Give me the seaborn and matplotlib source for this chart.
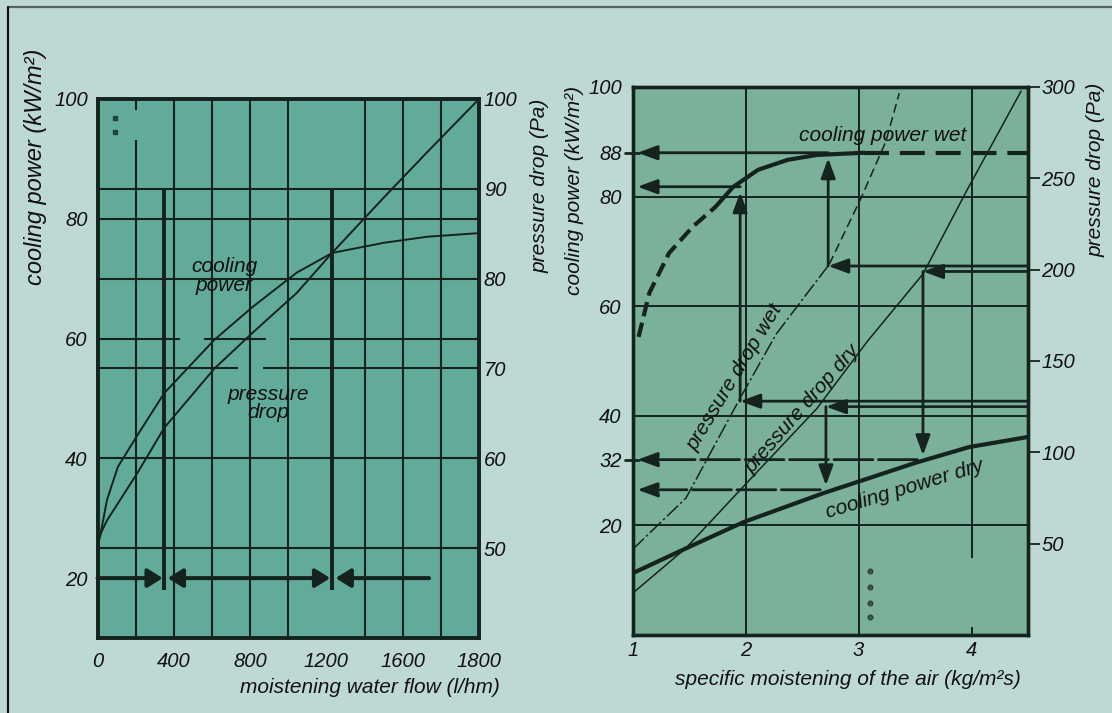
import numpy as np
import pandas as pd
import matplotlib
matplotlib.use('Agg')
import matplotlib.pyplot as plt
import seaborn as sns
from matplotlib.lines import Line2D

# ---- left chart: cooling power / pressure drop vs moistening water flow ----
flow_cp = [0, 13, 50, 107, 210, 350, 613, 814, 1044, 1231, 1504, 1729, 2000]
cooling_power = [25.5, 26.9, 33.1, 38.6, 43.9, 50.9, 59.8, 65.3, 71.0, 74.3, 76.0, 77.0, 77.6]
flow_pd = [0, 50, 210, 350, 613, 814, 1044, 1231, 1504, 1729, 2000]
pressure_drop = [50.9, 53.1, 58.4, 63.4, 70.0, 74.0, 78.4, 82.9, 89.1, 94.1, 100.0]
flow_ticks = [0, 400, 800, 1200, 1600, 2000]
flow_ticklabels = ['0', '400', '800', '1200', '1600', '1800']
flow_grid = [400, 600, 800, 1000, 1400, 1600, 1800]
cp_grid_left = [40, 80]
pd_grid_left = [50, 80, 90]
# grid lines drawn with breaks in the original scan
cp60_x0 = [0, 557, 1007]
cp60_x1 = [433, 885, 2000]
pd70_x0 = [0, 866]
pd70_x1 = [735, 2000]
flow200_y0 = [10, 98.2]
flow200_y1 = [93.2, 100]
flow_bounds = [350, 1230]        # thick range limits
range_level = 20                 # arrow row (kW/m2)
scan_dots_left_x = [92, 92]
scan_dots_left_y = [96.8, 94.5]

# ---- right chart: vs specific moistening of the air ----
air_cpw = [1.05, 1.145, 1.32, 1.53, 1.73, 1.89, 2.11, 2.37, 2.63, 3.05]
cp_wet = [54.4, 62.4, 69.7, 74.5, 78.1, 81.8, 84.9, 86.7, 87.6, 88.0]
plateau_x = [3.05, 4.5]
plateau_cp = [88, 88]
air_cpd = [1.0, 1.5, 1.98, 2.69, 3.0, 3.5, 3.98, 4.49]
cp_dry = [11.3, 16.1, 20.6, 25.9, 28.0, 31.4, 34.3, 36.1]
air_pdw = [1.0, 1.47, 1.95, 2.27, 2.74, 3.02, 3.24, 3.36]
pd_wet = [47, 75, 129.7, 164.8, 203, 239, 270, 296.6]
air_pdd = [1.0, 1.47, 2.05, 2.63, 3.08, 3.57, 3.97, 4.44]
pd_dry = [23, 47.6, 86, 124, 161, 197.6, 244.7, 297.8]
cp_ticks = [20, 32, 40, 60, 80, 88, 100]
pa_ticks = [50, 100, 150, 200, 250, 300]
air_grid = [2, 3]
cp_grid_right = [20, 40, 60, 80]
# reading examples: start pressure (Pa) -> curve at x -> cooling power (kW/m2)
read_x = [1.95, 2.73, 3.57, 2.71]
read_pa = [128, 202, 199, 125]
read_cp = [81.8, 88, 32, 26.5]
read_down = [False, False, True, True]
scan_dots_right_x = [3.1, 3.1, 3.1, 3.1]
scan_dots_right_y = [11.6, 8.7, 5.8, 3.3]

sns.set_theme(style='white')
plt.rcParams['font.family'] = ['Liberation Sans', 'DejaVu Sans']
plt.rcParams['font.style'] = 'italic'
plt.rcParams['font.size'] = 14.5

bg = '#bed9d3'
ink = '#15231f'

fig = plt.figure(figsize=(11.12, 7.13), dpi=100, facecolor=bg)

# frame
fig.add_artist(Line2D([7.5 / 1112, 1], [1 - 6.5 / 713] * 2, transform=fig.transFigure, color='#56615d', lw=1.6))
fig.add_artist(Line2D([7.5 / 1112] * 2, [0, 1 - 6.5 / 713], transform=fig.transFigure, color='#111111', lw=1.6))


def arrow(ax, x0, y0, x1, y1, lw=2.0, hl=0.6, hw=0.22, style='-|>', ls='-'):
    ax.annotate('', xy=(x1, y1), xytext=(x0, y0),
                arrowprops=dict(arrowstyle=f'{style},head_length={hl},head_width={hw}',
                                lw=lw, color=ink, shrinkA=0, shrinkB=0,
                                mutation_scale=20, linestyle=ls),
                annotation_clip=False)


# ================= left chart =================
ax1 = fig.add_axes([0.0877, 0.1052, 0.3431, 0.756])
ax1.set_facecolor('#62ab9a')
ax1b = ax1.twinx()

for x in flow_grid:
    ax1.axvline(x, color=ink, lw=1.5, zorder=1)
ax1.vlines([200] * len(flow200_y0), flow200_y0, flow200_y1, color=ink, lw=1.5, zorder=1)
for y in cp_grid_left:
    ax1.axhline(y, color=ink, lw=1.5, zorder=1)
ax1.hlines([60] * len(cp60_x0), cp60_x0, cp60_x1, color=ink, lw=1.5, zorder=1)
for y in pd_grid_left:
    ax1b.axhline(y, color=ink, lw=1.5, zorder=1)
ax1b.hlines([70] * len(pd70_x0), pd70_x0, pd70_x1, color=ink, lw=1.5, zorder=1)

ax1.vlines(flow_bounds, 18, 84.8, color=ink, lw=2.8, zorder=2)

sns.lineplot(x=flow_cp, y=cooling_power, ax=ax1, color=ink, lw=1.4)
sns.lineplot(x=flow_pd, y=pressure_drop, ax=ax1b, color=ink, lw=1.4)
ax1.plot(scan_dots_left_x, scan_dots_left_y, 's', color=ink, ms=3.5, alpha=0.7)

arrow(ax1, 0, range_level, flow_bounds[0] - 8, range_level, lw=2.9, hl=0.45, hw=0.28)
arrow(ax1, flow_bounds[0] + 18, range_level, flow_bounds[1] - 10, range_level,
      lw=2.9, hl=0.45, hw=0.28, style='<|-|>')
arrow(ax1, 1738, range_level, flow_bounds[1] + 18, range_level, lw=2.9, hl=0.45, hw=0.28)

ax1.text(664, 70.5, 'cooling\npower', ha='center', va='center', fontsize=15, linespacing=1.0, color='#111')
ax1.text(895, 49.2, 'pressure\ndrop', ha='center', va='center', fontsize=15, linespacing=0.95, color='#111')

ax1.set_xlim(0, 2000)
ax1.set_ylim(10, 100)
ax1b.set_ylim(40, 100)
ax1.set_xticks(flow_ticks, flow_ticklabels)
ax1.set_yticks([20, 40, 60, 80, 100])
ax1b.set_yticks([50, 60, 70, 80, 90, 100])
ax1.tick_params(axis='x', length=0, pad=10, labelsize=14.5, colors='#111')
ax1.tick_params(axis='y', length=0, pad=7, labelsize=14.5, colors='#111')
ax1b.tick_params(axis='y', length=0, pad=3.5, labelsize=14.5, colors='#111')
ax1.set_xlabel('moistening water flow (l/hm)', fontsize=15, va='center', color='#111')
ax1.xaxis.set_label_coords(0.714, -0.091)
ax1.set_ylabel('cooling power (kW/m²)', fontsize=17, va='center', color='#111')
ax1.yaxis.set_label_coords(-0.162, 0.874)
ax1b.set_ylabel('pressure drop (Pa)', fontsize=15, va='center', color='#111')
ax1b.yaxis.set_label_coords(1.159, 0.839)
for a in (ax1, ax1b):
    for s in a.spines.values():
        s.set_color(ink)
        s.set_linewidth(2.6)

# ================= right chart =================
ax2 = fig.add_axes([0.5692, 0.1094, 0.3552, 0.7686])
ax2.set_facecolor('#7bb19a')
ax2b = ax2.twinx()
pa_to_cp = 100 / 300

ax2.vlines(air_grid, 0, 100, color=ink, lw=1.4, zorder=1)
ax2.vlines(4, 14, 100, color=ink, lw=1.4, zorder=1)
ax2.vlines(4, 0, 1.5, color=ink, lw=1.4, zorder=1)
for y in cp_grid_right:
    ax2.axhline(y, color=ink, lw=1.4, zorder=1)

# curves
sns.lineplot(x=air_cpw[:5], y=cp_wet[:5], ax=ax2, color=ink, lw=3.0, linestyle=(0, (3.5, 1.6)))
sns.lineplot(x=air_cpw[4:], y=cp_wet[4:], ax=ax2, color=ink, lw=3.0)
sns.lineplot(x=plateau_x, y=plateau_cp, ax=ax2, color=ink, lw=3.0, linestyle=(0, (6, 2.6)))
sns.lineplot(x=air_cpd, y=cp_dry, ax=ax2, color=ink, lw=3.0)
sns.lineplot(x=air_pdw[:5], y=pd_wet[:5], ax=ax2b, color=ink, lw=1.1, linestyle=(0, (10, 2, 1.5, 2)))
sns.lineplot(x=air_pdw[4:], y=pd_wet[4:], ax=ax2b, color=ink, lw=1.1, linestyle=(0, (6, 3)))
sns.lineplot(x=air_pdd, y=pd_dry, ax=ax2b, color=ink, lw=1.1)
ax2.plot(scan_dots_right_x, scan_dots_right_y, 'o', color=ink, ms=3.5, alpha=0.6)

# reading arrows
for i in range(len(read_x)):
    xr = read_x[i]
    y_pa = read_pa[i] * pa_to_cp
    cp = read_cp[i]
    arrow(ax2, 4.5, y_pa, xr, y_pa, lw=2.0)
    if read_down[i]:
        arrow(ax2, xr, y_pa, xr, cp + 0.8, lw=2.0)
        arrow(ax2, xr - 0.05, cp, 1.04, cp, lw=2.0, ls=(0, (14, 2)))
    else:
        arrow(ax2, xr, y_pa, xr, cp - 1.0, lw=2.0)
        arrow(ax2, xr, cp, 1.04, cp, lw=2.0)
for cp in (88, 32):
    ax2.plot([0.93, 1.05], [cp, cp], color=ink, lw=2.0, clip_on=False)

ax2.text(3.21, 91.2, 'cooling power wet', ha='center', va='center', fontsize=15, color='#111')
ax2.text(1.90, 46.9, 'pressure drop wet', ha='center', va='center', fontsize=15,
         rotation=58.8, rotation_mode='anchor', color='#111')
ax2.text(2.50, 41.2, 'pressure drop dry', ha='center', va='center', fontsize=15,
         rotation=48.8, rotation_mode='anchor', color='#111')
ax2.text(3.41, 26.6, 'cooling power dry', ha='center', va='center', fontsize=15,
         rotation=16.9, rotation_mode='anchor', color='#111')

ax2.set_xlim(1, 4.5)
ax2.set_ylim(0, 100)
ax2b.set_ylim(0, 300)
ax2.set_xticks([1, 2, 3, 4])
ax2.set_yticks(cp_ticks)
ax2b.set_yticks(pa_ticks)
ax2.tick_params(axis='x', length=0, pad=4, labelsize=14.5, colors='#111')
ax2.tick_params(axis='y', length=0, pad=8, labelsize=14.5, colors='#111')
ax2b.tick_params(axis='y', length=8.5, width=1.3, pad=1, direction='out', labelsize=14.5,
                 color=ink, labelcolor='#111')
ax2.set_xlabel('specific moistening of the air (kg/m²s)', fontsize=15, va='center', color='#111')
ax2.xaxis.set_label_coords(0.544, -0.082)
ax2.set_ylabel('cooling power (kW/m²)', fontsize=15, va='center', color='#111')
ax2.yaxis.set_label_coords(-0.148, 0.812)
ax2b.set_ylabel('pressure drop (Pa)', fontsize=15, va='center', color='#111')
ax2b.yaxis.set_label_coords(1.172, 0.849)
for a in (ax2, ax2b):
    for s in a.spines.values():
        s.set_color(ink)
        s.set_linewidth(2.4)

fig.savefig('out.png', dpi=100, facecolor=bg)
